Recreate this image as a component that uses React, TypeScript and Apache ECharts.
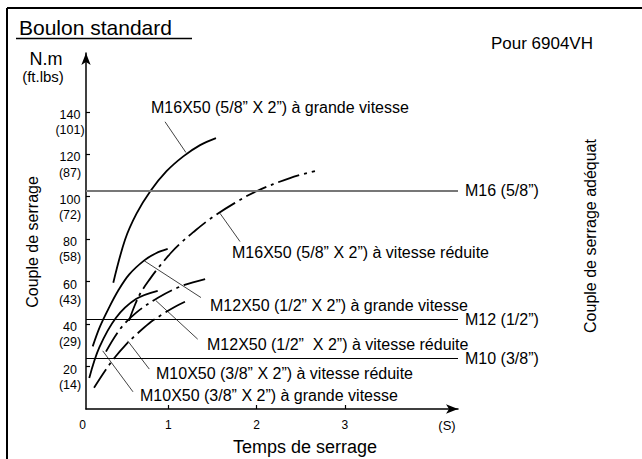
import React, { useEffect, useRef } from 'react';
import * as echarts from 'echarts';

const FONT = "'Liberation Sans', Arial, Helvetica, sans-serif";

// Axis ticks
const yTicks = [20, 40, 60, 80, 100, 120, 140];
const yTicksFt = [14, 29, 43, 58, 72, 87, 101];
const xTicks = [1, 2, 3];
const X_MIN = 0.068;
const X_MAX = 4.281;
const Y_MAX = 167.7;

// Curves (time in s, torque in N.m)
const m16FastT = [0.377, 0.51, 0.64, 0.8, 0.98, 1.17, 1.36, 1.54];
const m16FastV = [59.5, 79.7, 92.0, 102.8, 112.0, 119.0, 124.3, 127.6];

const m16SlowT = [0.555, 0.623, 0.691, 0.793, 0.883, 1.031, 1.144, 1.28, 1.472, 1.755, 2.004, 2.378, 2.661];
const m16SlowV = [41.6, 49.1, 55.0, 61.3, 66.3, 73.6, 78.3, 83.2, 89.5, 97.1, 102.7, 108.8, 112.1];

const m12FastT = [0.144, 0.226, 0.332, 0.43, 0.558, 0.728, 0.861, 0.993];
const m12FastV = [29.5, 38.8, 48.0, 55.6, 63.4, 70.0, 73.4, 75.4];

const m12SlowT = [0.294, 0.453, 0.634, 0.883, 1.155, 1.427];
const m12SlowV = [27.0, 37.6, 45.3, 52.4, 58.0, 61.3];

const m10FastT = [0.105, 0.219, 0.408, 0.634, 0.88];
const m10FastV = [14.6, 29.0, 43.0, 51.8, 55.7];

const m10SlowT = [0.159, 0.294, 0.396, 0.51, 0.623, 0.781, 0.94, 1.087, 1.234];
const m10SlowV = [10.0, 18.6, 24.4, 29.9, 34.5, 40.3, 44.8, 48.4, 51.4];

// Adequate torque reference lines
const refValues = [102.7, 42.3, 24.0];
const refLabels = ['M16 (5/8”)', 'M12 (1/2”)', 'M10 (3/8”)'];

// Annotation labels and their leader lines [t0, v0, t1, v1]
const annotTexts = [
  'M16X50 (5/8” X 2”) à grande vitesse',
  'M16X50 (5/8” X 2”) à vitesse réduite',
  'M12X50 (1/2” X 2”) à grande vitesse',
  'M12X50 (1/2”  X 2”) à vitesse réduite',
  'M10X50 (3/8” X 2”) à vitesse réduite',
  'M10X50 (3/8” X 2”) à grande vitesse',
];
const leaders = [
  [0.963, 135.3, 1.2, 120.8],
  [1.585, 92.2, 1.812, 78.9],
  [0.728, 69.8, 1.37, 52.5],
  [0.861, 51.0, 1.333, 32.9],
  [0.54, 32.1, 0.785, 18.8],
  [0.257, 27.4, 0.6, 8.1],
];

const zip = (t: number[], v: number[]) => t.map((x, i) => [x, v[i]]);

export default function App() {
  const ref = useRef<HTMLDivElement>(null);
  useEffect(() => {
    if (!ref.current) return;
    const chart = echarts.init(ref.current, null, { renderer: 'svg' });
    const dashDot = [22, 5, 3, 5];
    const curve = (name: string, t: number[], v: number[], dashed: boolean, extra: any = {}) => ({
      type: 'line',
      name,
      data: zip(t, v),
      smooth: 0.35,
      showSymbol: false,
      symbol: 'none',
      silent: true,
      lineStyle: { color: '#000', width: 1.8, type: dashed ? dashDot : 'solid' },
      z: 3,
      ...extra,
    });
    const leaderSeries = leaders.map((l, i) => ({
      type: 'line',
      name: 'leader' + i,
      data: [[l[0], l[1]], [l[2], l[3]]],
      symbol: 'none',
      silent: true,
      lineStyle: { color: '#111', width: 0.8 },
      z: 2,
    }));
    const annotPos = [
      [151, 107],
      [232, 252],
      [210, 305],
      [207, 344],
      [156, 373],
      [140, 395],
    ];
    const txt = (text: string, x: number, y: number, size: number, align = 'left', rotation = 0) => ({
      type: 'text',
      x,
      y,
      rotation,
      silent: true,
      style: {
        text,
        font: `${size}px ${FONT}`,
        fill: '#000',
        textAlign: align,
        textVerticalAlign: 'middle',
      },
    });
    // label-only y axes, shifted slightly so the two-line labels sit under each tick
    const labelAxis = (shift: number, fmt: (i: number) => string) => ({
      type: 'value',
      min: shift,
      max: Y_MAX + shift,
      position: 'left',
      axisLine: { show: false },
      axisTick: { show: false },
      splitLine: { show: false },
      axisLabel: {
        customValues: yTicks,
        showMinLabel: true,
        showMaxLabel: true,
        formatter: (v: number) => {
          const i = yTicks.indexOf(Math.round(v));
          return i >= 0 ? fmt(i) : '';
        },
        align: 'center',
        margin: 16,
        color: '#000',
        fontSize: 12.5,
        fontFamily: FONT,
      },
    });

    chart.setOption({
      animation: false,
      backgroundColor: '#fff',
      grid: { left: 86, right: 184, top: 53, bottom: 50 },
      xAxis: {
        type: 'value',
        min: X_MIN,
        max: X_MAX,
        axisLine: {
          show: true,
          symbol: ['none', 'arrow'],
          symbolSize: [7, 12],
          lineStyle: { color: '#000', width: 1.5 },
        },
        axisTick: { show: true, inside: true, length: 4, customValues: xTicks, lineStyle: { color: '#000', width: 1.2 } },
        axisLabel: {
          customValues: [X_MIN, ...xTicks],
          formatter: (v: number) => (v < 0.5 ? '0' : String(v)),
          alignMinLabel: 'right',
          showMinLabel: true,
          showMaxLabel: true,
          color: '#000',
          fontSize: 12,
          fontFamily: FONT,
          margin: 10,
        },
        splitLine: { show: false },
      },
      yAxis: [
        {
          type: 'value',
          min: 0,
          max: Y_MAX,
          position: 'left',
          axisLine: {
            show: true,
            symbol: ['none', 'arrow'],
            symbolSize: [7, 12],
            lineStyle: { color: '#000', width: 1.5 },
          },
          axisTick: { show: true, inside: true, length: 4, customValues: yTicks, lineStyle: { color: '#000', width: 1.2 } },
          axisLabel: { show: false },
          splitLine: { show: false },
        },
        labelAxis(1.41, (i) => String(yTicks[i])),
        labelAxis(8.6, (i) => `(${yTicksFt[i]})`),
      ],
      series: [
        curve('M16X50 grande vitesse', m16FastT, m16FastV, false, {
          markLine: {
            silent: true,
            symbol: ['none', 'none'],
            label: {
              show: true,
              position: 'end',
              distance: 7,
              formatter: (p: any) => p.name,
              color: '#000',
              fontSize: 16,
              fontFamily: FONT,
            },
            data: refValues.map((v, i) => ({
              yAxis: v,
              name: refLabels[i],
              lineStyle: { color: i === 0 ? '#777' : '#000', width: i === 0 ? 2 : 1.2, type: 'solid' },
            })),
          },
        }),
        curve('M16X50 vitesse réduite', m16SlowT, m16SlowV, true),
        curve('M12X50 grande vitesse', m12FastT, m12FastV, false),
        curve('M12X50 vitesse réduite', m12SlowT, m12SlowV, true),
        curve('M10X50 grande vitesse', m10FastT, m10FastV, false),
        curve('M10X50 vitesse réduite', m10SlowT, m10SlowV, true),
        ...leaderSeries,
      ],
      graphic: [
        { type: 'line', silent: true, shape: { x1: 7, y1: 8, x2: 642, y2: 8 }, style: { stroke: '#000', lineWidth: 2 } },
        { type: 'line', silent: true, shape: { x1: 7, y1: 8, x2: 7, y2: 459 }, style: { stroke: '#000', lineWidth: 2 } },
        { type: 'line', silent: true, shape: { x1: 16, y1: 38.5, x2: 192, y2: 38.5 }, style: { stroke: '#000', lineWidth: 1.5 } },
        txt('Boulon standard', 19, 27, 21),
        txt('Pour 6904VH', 593, 43, 17, 'right'),
        txt('N.m', 46, 59, 18, 'center'),
        txt('(ft.lbs)', 43, 76, 15, 'center'),
        txt('Couple de serrage', 32, 242, 16, 'center', Math.PI / 2),
        txt('Couple de serrage adéquat', 590, 236, 16, 'center', Math.PI / 2),
        txt('Temps de serrage', 305, 447, 18, 'center'),
        txt('(S)', 447, 425, 13, 'center'),
        ...annotTexts.map((t, i) => txt(t, annotPos[i][0], annotPos[i][1], 16)),
      ],
    });
    return () => chart.dispose();
  }, []);
  return <div ref={ref} style={{ position: 'fixed', left: 0, top: 0, width: 642, height: 459, background: '#fff' }} />;
}
